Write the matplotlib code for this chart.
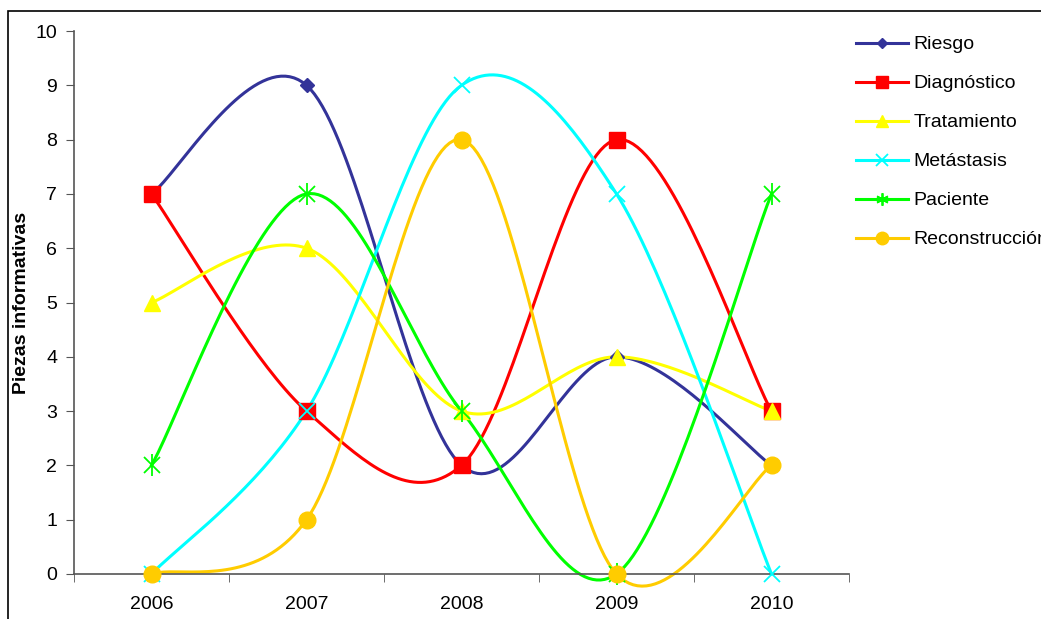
import numpy as np
import matplotlib.pyplot as plt
from matplotlib.patches import Rectangle

plt.rcParams['font.family'] = ['Liberation Sans', 'DejaVu Sans']

years = ['2006', '2007', '2008', '2009', '2010']
riesgo = [7, 9, 2, 4, 2]
diagnostico = [7, 3, 2, 8, 3]
tratamiento = [5, 6, 3, 4, 3]
metastasis = [0, 3, 9, 7, 0]
paciente = [2, 7, 3, 0, 7]
reconstruccion = [0, 1, 8, 0, 2]

series = [
    ('Riesgo', riesgo, '#333399', 'D', 7),
    ('Diagnóstico', diagnostico, '#FF0000', 's', 11),
    ('Tratamiento', tratamiento, '#FFFF00', '^', 12),
    ('Metástasis', metastasis, '#00FFFF', 'x', 12),
    ('Paciente', paciente, '#00FF00', '*', 12),
    ('Reconstrucción', reconstruccion, '#FFCC00', 'o', 12),
]


def smooth(y, n=40):
    # Catmull-Rom style Bezier pieces, like spreadsheet "smoothed lines"
    x = np.arange(len(y), dtype=float)
    y = np.asarray(y, dtype=float)
    xs, ys = [], []
    for i in range(len(y) - 1):
        i0 = max(i - 1, 0)
        i3 = min(i + 2, len(y) - 1)
        p0 = np.array([x[i], y[i]])
        p3 = np.array([x[i + 1], y[i + 1]])
        c1 = p0 + (p3 - np.array([x[i0], y[i0]])) / 6
        c2 = p3 - (np.array([x[i3], y[i3]]) - p0) / 6
        t = np.linspace(0, 1, n)[:, None]
        pts = ((1 - t) ** 3) * p0 + 3 * ((1 - t) ** 2) * t * c1 + 3 * (1 - t) * t ** 2 * c2 + t ** 3 * p3
        xs.extend(pts[:, 0])
        ys.extend(pts[:, 1])
    return np.array(xs), np.array(ys)


fig = plt.figure(figsize=(10.41, 6.19), dpi=100)
fig.patches.append(Rectangle((8 / 1041, -0.05), 1.2, 1 - 11 / 619 + 0.05,
                             transform=fig.transFigure, fill=False,
                             edgecolor='black', linewidth=1.2))
ax = fig.add_axes([74 / 1041, 1 - 574 / 619, (849 - 74) / 1041, (574 - 31) / 619])

x = np.arange(len(years))
handles = []
for name, vals, color, marker, ms in series:
    sx, sy = smooth(vals)
    ax.plot(sx, sy, color=color, linewidth=2.2, clip_on=False, zorder=2)
    if marker == '*':
        ax.plot(x, vals, linestyle='none', marker='x', markersize=ms,
                markeredgecolor=color, markeredgewidth=1.3, clip_on=False, zorder=3)
        ax.plot(x, vals, linestyle='none', marker='|', markersize=ms + 4,
                markeredgecolor=color, markeredgewidth=1.3, clip_on=False, zorder=3)
        h, = ax.plot([], [], color=color, linewidth=2.2, marker=(6, 2, 0),
                     markersize=9, markeredgecolor=color, markeredgewidth=1.3)
    elif marker == 'x':
        ax.plot(x, vals, linestyle='none', marker='x', markersize=ms,
                markeredgecolor=color, markeredgewidth=1.3, clip_on=False, zorder=3)
        h, = ax.plot([], [], color=color, linewidth=2.2, marker='x',
                     markersize=9, markeredgecolor=color, markeredgewidth=1.3)
    else:
        ax.plot(x, vals, linestyle='none', marker=marker, markersize=ms,
                color=color, markeredgecolor=color, clip_on=False, zorder=3)
        h, = ax.plot([], [], color=color, linewidth=2.2, marker=marker,
                     markersize=ms * 0.75, markeredgecolor=color)
    handles.append((h, name))

ax.set_xlim(-0.5, len(years) - 0.5)
ax.set_ylim(0, 10)
ax.set_yticks(range(0, 11))
ax.set_xticks(x)
ax.set_xticklabels(years)
ax.set_xticks(np.arange(-0.5, len(years)), minor=True)
ax.tick_params(axis='x', which='major', length=0, labelsize=14, pad=16)
ax.tick_params(axis='x', which='minor', length=6, color='#555555')
ax.tick_params(axis='y', length=6, labelsize=14, color='#555555', pad=6)
for side in ('top', 'right'):
    ax.spines[side].set_visible(False)
for side in ('left', 'bottom'):
    ax.spines[side].set_color('#555555')
    ax.spines[side].set_linewidth(1.2)
ax.set_ylabel('Piezas informativas', fontsize=14, fontweight='bold')
ax.yaxis.set_label_coords(-44 / 775, 0.5)

fig.legend([h for h, _ in handles], [n for _, n in handles],
           loc='upper left', bbox_to_anchor=(848 / 1041, 1 - 28 / 619),
           frameon=False, fontsize=14, handlelength=2.7, handletextpad=0.25,
           labelspacing=1.1, borderaxespad=0)

fig.savefig('out.png', dpi=100)
